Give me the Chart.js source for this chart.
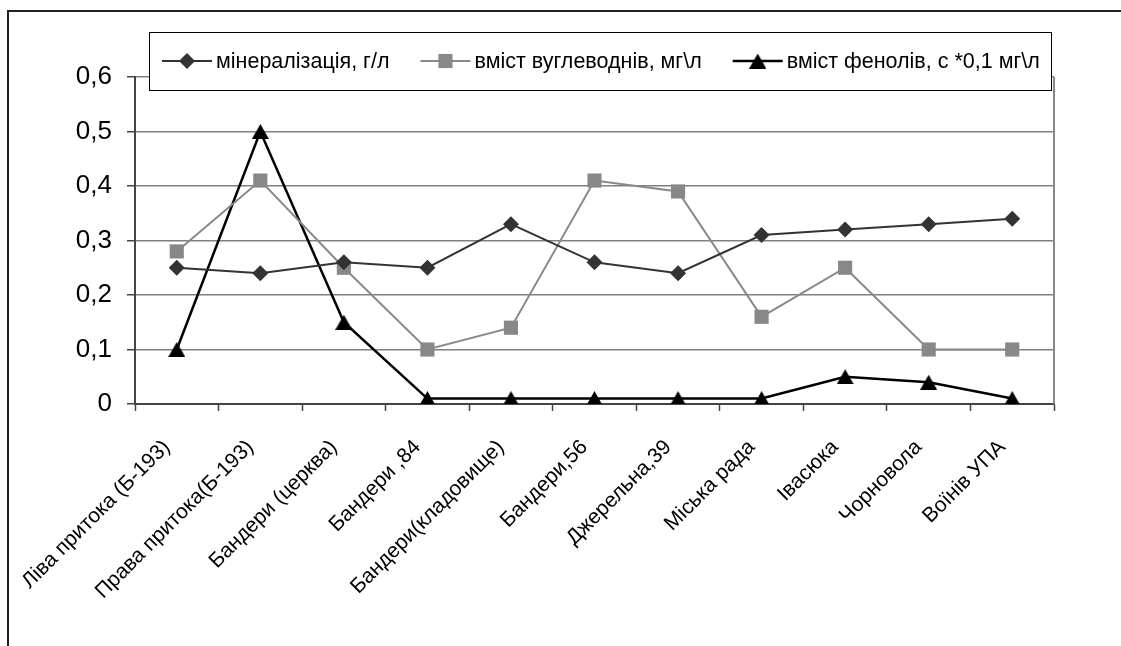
<!DOCTYPE html>
<html lang="uk">
<head>
<meta charset="UTF-8">
<title>Мінералізація, вуглеводні, феноли</title>
<script src="https://cdn.jsdelivr.net/npm/chart.js"></script>
<style>
  html, body { margin: 0; padding: 0; background: #fff; }
  #wrap { position: relative; width: 1121px; height: 646px; }
  #frame { position: absolute; left: 7px; top: 10px; right: 0; bottom: 0;
           border-top: 2px solid #222; border-left: 2px solid #222; pointer-events: none; }
</style>
</head>
<body>
<div id="wrap">
  <canvas id="chart"></canvas>
  <div id="frame"></div>
</div>
<script>
const categories = ['Ліва притока (Б-193)', 'Права притока(Б-193)', 'Бандери (церква)', 'Бандери ,84',
  'Бандери(кладовище)', 'Бандери,56', 'Джерельна,39', 'Міська рада', 'Івасюка', 'Чорновола', 'Воїнів УПА'];
const mineralization = [0.25, 0.24, 0.26, 0.25, 0.33, 0.26, 0.24, 0.31, 0.32, 0.33, 0.34];
const hydrocarbons = [0.28, 0.41, 0.25, 0.10, 0.14, 0.41, 0.39, 0.16, 0.25, 0.10, 0.10];
const phenols = [0.10, 0.50, 0.15, 0.01, 0.01, 0.01, 0.01, 0.01, 0.05, 0.04, 0.01];
const yTicks = [0, 0.1, 0.2, 0.3, 0.4, 0.5, 0.6];

const FONT = "'Liberation Sans', Arial, sans-serif";

// excel-style triangle marker, centred on its bounding box
const tri = document.createElement('canvas');
tri.width = 17; tri.height = 15;
(function () {
  const c = tri.getContext('2d');
  c.fillStyle = '#000';
  c.beginPath();
  c.moveTo(0, 15); c.lineTo(8.5, 0); c.lineTo(17, 15);
  c.closePath(); c.fill();
})();

const frameAndLegend = {
  id: 'frameAndLegend',
  afterDraw(chart) {
    const { ctx, chartArea } = chart;
    ctx.save();
    // right border of the plot area
    ctx.strokeStyle = '#888';
    ctx.lineWidth = 2;
    ctx.beginPath();
    ctx.moveTo(chartArea.right, chartArea.top);
    ctx.lineTo(chartArea.right, chartArea.bottom);
    ctx.stroke();

    // legend box overlapping the top of the plot
    const box = { left: 149, top: 32, right: 1051, bottom: 90 };
    ctx.fillStyle = '#fff';
    ctx.fillRect(box.left, box.top, box.right - box.left, box.bottom - box.top);
    ctx.strokeStyle = '#000';
    ctx.lineWidth = 1;
    ctx.strokeRect(box.left + 0.5, box.top + 0.5, box.right - box.left, box.bottom - box.top);

    ctx.font = '21.5px ' + FONT;
    ctx.textBaseline = 'middle';
    const cy = (box.top + box.bottom) / 2;
    let x = box.left + 13;
    chart.data.datasets.forEach(ds => {
      ctx.strokeStyle = ds.borderColor;
      ctx.lineWidth = ds.borderWidth;
      ctx.beginPath();
      ctx.moveTo(x, cy);
      ctx.lineTo(x + 50, cy);
      ctx.stroke();
      ctx.fillStyle = ds.pointBackgroundColor;
      ctx.strokeStyle = ds.pointBorderColor;
      Chart.helpers.drawPoint(ctx, { pointStyle: ds.pointStyle, radius: ds.pointRadius, rotation: 0, borderWidth: 0 }, x + 25, cy);
      ctx.fillStyle = '#000';
      ctx.fillText(ds.label, x + 54, cy + 1);
      x += 54 + ctx.measureText(ds.label).width + 31;
    });
    ctx.restore();
  }
};

new Chart(document.getElementById('chart').getContext('2d'), {
  type: 'line',
  data: {
    labels: categories,
    datasets: [
      {
        label: 'мінералізація, г/л',
        data: mineralization,
        borderColor: '#333',
        borderWidth: 2,
        pointStyle: 'rectRot',
        pointRadius: 8,
        pointBackgroundColor: '#333',
        pointBorderColor: '#333',
        pointBorderWidth: 0
      },
      {
        label: 'вміст вуглеводнів, мг\\л',
        data: hydrocarbons,
        borderColor: '#888',
        borderWidth: 2,
        pointStyle: 'rect',
        pointRadius: 10,
        pointBackgroundColor: '#888',
        pointBorderColor: '#888',
        pointBorderWidth: 0
      },
      {
        label: 'вміст фенолів, с *0,1 мг\\л',
        data: phenols,
        borderColor: '#000',
        borderWidth: 2.5,
        pointStyle: tri,
        pointRadius: 9,
        pointBackgroundColor: '#000',
        pointBorderColor: '#000',
        pointBorderWidth: 0
      }
    ]
  },
  options: {
    responsive: true,
    maintainAspectRatio: false,
    animation: false,
    layout: { padding: { top: 77, right: 67, left: 0, bottom: 0 } },
    plugins: { legend: { display: false }, tooltip: { enabled: false } },
    elements: { line: { tension: 0 } },
    scales: {
      x: {
        offset: true,
        afterFit: s => { s.height = 242; },
        grid: { offset: true, drawOnChartArea: false, drawTicks: true, tickLength: 7, tickColor: '#444', tickWidth: 1.5 },
        border: { color: '#444', width: 2 },
        ticks: {
          autoSkip: false, minRotation: 45, maxRotation: 45, padding: 24, labelOffset: -10,
          color: '#000', font: { family: FONT, size: 21 }
        }
      },
      y: {
        min: 0, max: 0.6,
        afterFit: s => { s.width = 135; },
        afterBuildTicks: s => { s.ticks = yTicks.map(v => ({ value: v })); },
        grid: { color: '#808080', lineWidth: 1.5, drawTicks: true, tickLength: 8, tickColor: '#444', tickWidth: 1.5 },
        border: { color: '#444', width: 2 },
        ticks: {
          padding: 15, color: '#000', font: { family: FONT, size: 26 },
          callback: v => v === 0 ? '0' : v.toFixed(1).replace('.', ',')
        }
      }
    }
  },
  plugins: [frameAndLegend]
});
</script>
</body>
</html>
